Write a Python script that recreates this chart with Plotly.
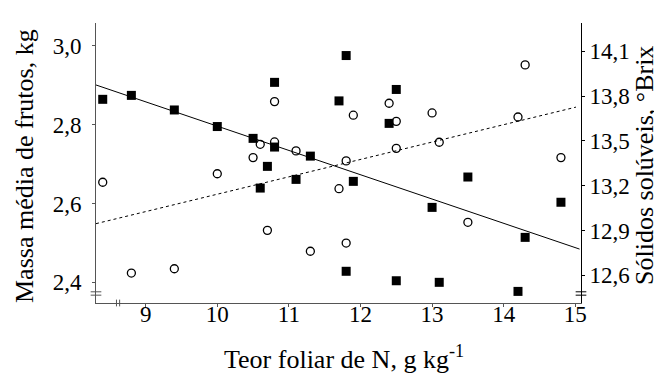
import numpy as np
import plotly.graph_objects as go

# N foliar content (g/kg)
n_foliar = [8.4, 8.8, 9.4, 10.0, 10.5, 10.6, 10.7, 10.8, 10.8, 11.1, 11.3, 11.7,
            11.8, 11.8, 11.9, 12.4, 12.5, 12.5, 13.0, 13.1, 13.5, 14.2, 14.3, 14.8]
# mean fruit mass (kg) - filled squares, left axis
massa = [2.864, 2.874, 2.837, 2.795, 2.765, 2.639, 2.694, 2.743, 2.907, 2.661, 2.720, 2.860,
         2.975, 2.428, 2.656, 2.803, 2.889, 2.404, 2.590, 2.400, 2.667, 2.377, 2.514, 2.603]

n_foliar_b = [8.4, 8.8, 9.4, 10.0, 10.5, 10.6, 10.7, 10.8, 10.8, 11.1, 11.3, 11.7,
              11.8, 11.8, 11.9, 12.4, 12.5, 12.5, 13.0, 13.1, 13.5, 14.2, 14.3, 14.8]
# soluble solids (Brix) - open circles, right axis
brix = [13.223, 12.615, 12.644, 13.280, 13.388, 13.477, 12.901, 13.763, 13.493, 13.433, 12.761, 13.180,
        13.366, 12.816, 13.672, 13.752, 13.631, 13.450, 13.687, 13.491, 12.955, 13.660, 14.009, 13.388]

# regression coefficients (intercept, slope)
massa_fit = (3.412, -0.0616)
brix_fit = (11.979, 0.1164)

x_range = [8.306, 15.08]
yl_range = [2.3476, 3.0575]
yr_range = [12.4145, 14.2895]

x_ticks = [9, 10, 11, 12, 13, 14, 15]
yl_ticks = [2.4, 2.6, 2.8, 3.0]
yl_text = ["2,4", "2,6", "2,8", "3,0"]
yr_ticks = [12.6, 12.9, 13.2, 13.5, 13.8, 14.1]
yr_text = ["12,6", "12,9", "13,2", "13,5", "13,8", "14,1"]

x_title = "Teor foliar de N, g kg<sup>-1</sup>"
yl_title = "Massa média de frutos, kg"
yr_title = "Sólidos solúveis, °Brix"

FONT = "Liberation Serif, Times New Roman, serif"

xl = np.array([x_range[0], 15.06])
xd = np.array([x_range[0], 15.01])

fig = go.Figure()
fig.add_trace(go.Scatter(x=xl, y=massa_fit[0] + massa_fit[1] * xl, mode="lines",
                         line=dict(color="black", width=1), yaxis="y", showlegend=False))
fig.add_trace(go.Scatter(x=xd, y=brix_fit[0] + brix_fit[1] * xd, mode="lines",
                         line=dict(color="black", width=1, dash="3px,3px"), yaxis="y2", showlegend=False))
fig.add_trace(go.Scatter(x=n_foliar, y=massa, mode="markers", yaxis="y",
                         marker=dict(symbol="square", size=9, color="black"), showlegend=False))
fig.add_trace(go.Scatter(x=n_foliar_b, y=brix, mode="markers", yaxis="y2",
                         marker=dict(symbol="circle-open", size=8, color="black",
                                     line=dict(width=1.3, color="black")), showlegend=False))

axis_font = dict(family=FONT, size=23, color="black")
title_font = dict(family=FONT, size=26, color="black")

fig.update_layout(
    width=662, height=373,
    margin=dict(l=88, r=89, t=15, b=78),
    paper_bgcolor="white", plot_bgcolor="white",
    font=dict(family=FONT, color="black"),
    xaxis=dict(range=x_range, tickvals=x_ticks, ticks="outside", ticklen=3, tickcolor="#555",
               showline=True, linecolor="#555", linewidth=1, showgrid=False, zeroline=False,
               tickfont=axis_font, ticklabelstandoff=-13),
    yaxis=dict(range=yl_range, tickvals=yl_ticks, ticktext=yl_text, ticks="outside", ticklen=3,
               tickcolor="#555", showline=True, linecolor="#555", linewidth=1, showgrid=False,
               zeroline=False, tickfont=axis_font, ticklabelstandoff=6),
    yaxis2=dict(range=yr_range, tickvals=yr_ticks, ticktext=yr_text, ticks="outside", ticklen=3,
                tickcolor="black", showline=True, linecolor="black", linewidth=1, showgrid=False,
                zeroline=False, overlaying="y", side="right", tickfont=axis_font),
)

fig.add_annotation(text=x_title, xref="paper", yref="paper", x=0.511, y=0, yshift=-54,
                   xanchor="center", yanchor="middle", showarrow=False, font=title_font)
fig.add_annotation(text=yl_title, xref="paper", yref="paper", x=0, y=0.5, xshift=-72, yshift=-3,
                   xanchor="center", yanchor="middle", textangle=-90, showarrow=False, font=title_font)
fig.add_annotation(text=yr_title, xref="paper", yref="paper", x=1, y=0.5, xshift=63, yshift=-3,
                   xanchor="center", yanchor="middle", textangle=-90, showarrow=False, font=title_font)

# axis break marks
brk_x = 8.614
for dx in (-0.022, 0.022):
    fig.add_shape(type="line", xref="x", yref="paper", x0=brk_x + dx, x1=brk_x + dx,
                  y0=-0.012, y1=0.012, line=dict(color="#555", width=1))
for xp in (0.0, 1.0):
    for dy in (0.04, 0.028):
        fig.add_shape(type="line", xref="paper", yref="paper", x0=xp - 0.011, x1=xp + 0.011,
                      y0=dy, y1=dy, line=dict(color="#555" if xp == 0 else "black", width=1))

fig.write_html("out.html")
